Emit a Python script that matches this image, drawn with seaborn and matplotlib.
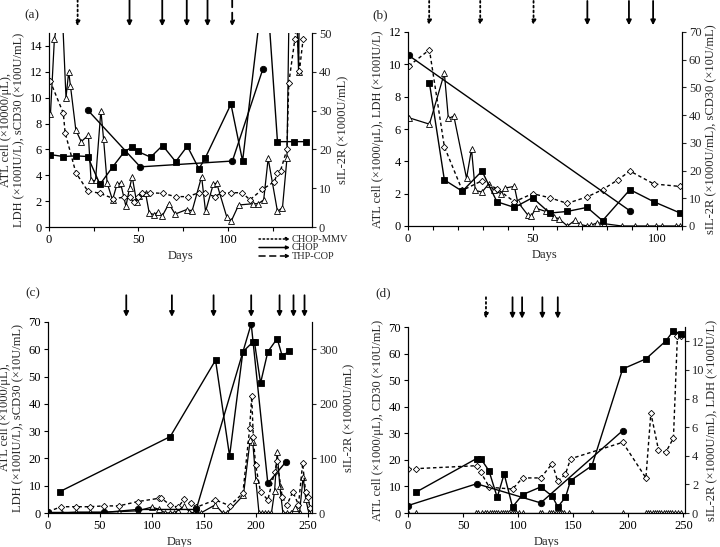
import matplotlib
matplotlib.use('Agg')
import matplotlib.pyplot as plt
import seaborn as sns
from matplotlib.transforms import blended_transform_factory
from matplotlib.ticker import MultipleLocator

# ---------------- data ----------------
# Panel (a)
a_tri_d = [0.8, 3, 7, 9.5, 11, 12, 15, 18, 22, 23.5, 26, 29, 30.5, 32.5, 35.5, 38, 40, 43, 45, 46.5,
           49, 50.5, 52, 54, 56, 58.7, 60.7, 63.3, 67, 70.5, 77, 80, 85.3, 87.5, 91.8, 93.7, 99.3, 102, 106, 114,
           117, 120, 122.5, 127.7, 130.5, 133, 135.5, 139.5, 141]
a_tri_v = [8.7, 14.5, 18, 10.0, 12.0, 10.9, 7.5, 6.6, 7.1, 3.6, 3.6, 9.0, 6.8, 3.4, 2.1, 3.3, 3.4, 1.6, 3.0, 3.9,
           1.9, 2.4, 2.6, 2.6, 1.1, 0.95, 1.15, 0.85, 1.8, 1.0, 1.35, 1.25, 3.9, 1.2, 3.3, 3.4, 0.8, 0.5, 1.7, 1.8,
           1.8, 2.1, 5.3, 1.2, 1.5, 5.3, 30, 12.0, 30]
a_dia_d = [0.6, 8, 9, 15, 21.6, 28.5, 36, 42, 45, 47.5, 49.5, 52, 56.4, 63.5, 70.8, 77.5, 83.8, 87.2, 92.7, 96.5,
           102, 108, 112.3, 119.2, 125.9, 127.7, 129.4, 133, 134, 137.4, 138.5, 140, 142]
a_dia_v = [11.3, 8.8, 7.3, 4.2, 2.8, 2.6, 2.2, 2.3, 2.3, 1.9, 2.3, 2.6, 2.65, 2.6, 2.35, 2.35, 2.65, 2.6, 2.35, 2.65,
           2.65, 2.65, 2.1, 2.9, 3.5, 4.15, 4.35, 6.0, 11.1, 14.5, 16, 12.1, 14.5]
a_sq_d = [0.6, 8, 15, 21.6, 28.5, 35.6, 42, 46.6, 49.5, 56.8, 63.5, 70.8, 77.3, 83.8, 87.2, 101.7, 108.2, 121,
          127.7, 137, 143.4]
a_sq_v = [5.6, 5.45, 5.5, 5.45, 3.3, 4.65, 5.8, 6.2, 5.85, 5.4, 6.3, 5.05, 6.25, 4.5, 5.3, 9.5, 5.1, 20,
          6.6, 6.6, 6.6]
a_ci_d = [21.6, 51, 102.5, 119.5]
a_ci_v = [9.05, 4.65, 5.1, 12.2]
a_arrow_d = [16, 45, 63.3, 77, 88.6, 102.4]
a_arrow_s = ['CHOP-MMV', 'CHOP', 'CHOP', 'CHOP', 'CHOP', 'THP-COP']

# Panel (b)
b_ci_d = [0.3, 89]
b_ci_v = [10.55, 0.95]
b_sq_d = [8.6, 14.6, 21.8, 29.7, 35.7, 42.7, 50, 56.9, 63.9, 71.9, 78.1, 89.1, 98.7, 109]
b_sq_v = [8.85, 2.85, 2.15, 3.4, 1.5, 1.15, 1.75, 0.8, 0.9, 1.15, 0.33, 2.25, 1.5, 0.82]
b_dia_d = [0.3, 8.6, 14.6, 21.8, 29.7, 35.7, 42.7, 50, 56.9, 63.9, 71.9, 78.1, 84.2, 89.1, 98.7, 109]
b_dia_v = [9.9, 10.9, 4.9, 2.2, 2.8, 2.3, 1.5, 2.0, 1.75, 1.4, 1.8, 2.25, 2.85, 3.4, 2.6, 2.45]
b_tri_d = [0.3, 8.6, 14.6, 16.2, 18.4, 23.5, 25.5, 27, 29.7, 32.4, 34.5, 37.4, 39, 42.7, 44, 48, 49.5, 51.3,
           55.3, 58.6, 60.6, 64, 67, 69, 72, 73.5, 76, 78.5, 85.8, 91, 96, 99.7, 102, 107.7, 109]
b_tri_v = [6.7, 6.3, 9.45, 6.65, 6.8, 2.95, 4.75, 2.2, 2.1, 2.6, 2.2, 2.0, 2.35, 2.45, 1.5, 0.7, 0.6, 1.1,
           0.9, 0.55, 0.45, 0.0, 0.35, 0.1, 0.0, 0.05, 0.2, 0.15, 0.0, 0.0, 0.0, 0.0, 0.0, 0.0, 0.0]
b_arrow_d = [8.5, 29, 50.4, 72, 88.7, 98.4]
b_arrow_s = ['CHOP-MMV', 'CHOP-MMV', 'CHOP-MMV', 'CHOP', 'CHOP', 'CHOP']

# Panel (c)
c_sq_d = [11.2, 117.6, 161.2, 174.7, 187.5, 197, 198.7, 204.5, 211.5, 220.5, 225.3, 231.7]
c_sq_v = [7.8, 28.0, 56.0, 20.9, 59.1, 62.6, 62.5, 47.6, 59.1, 63.9, 57.6, 59.2]
c_ci_d = [0, 53.8, 86.5, 142.6, 195.5, 211.5, 229]
c_ci_v = [0.2, 0.2, 1.3, 1.3, 69.3, 10.9, 18.8]
c_dia_d = [0, 12.8, 27, 40, 53.8, 68, 86.5, 107, 108.5, 117.6, 125, 131, 138, 142.6, 161, 174.7, 187.5, 194,
           196, 197.5, 199.7, 204.5, 211.5, 218, 220.5, 225.3, 229.8, 235.6, 241, 245, 247.8, 250, 252]
c_dia_v = [0.5, 2.3, 2.3, 2.3, 2.6, 2.6, 4.2, 5.4, 5.6, 2.9, 2.1, 5.0, 3.5, 2.1, 4.8, 2.7, 7.2, 31,
           42.7, 28, 17.6, 7.8, 4.8, 15, 19, 6.0, 2.9, 7.8, 3.0, 18.2, 7.8, 6.0, 2.0]
c_tri_d = [0, 13, 27, 40, 54, 68, 87, 100, 107, 113, 117, 121, 125, 131, 136, 140, 143, 147, 161, 168,
           172, 188, 194.5, 197, 200, 203, 206, 209, 212, 215, 218, 220.5, 223, 226, 230, 234, 238, 242,
           245.5, 248, 251]
c_tri_v = [0, 0, 0.3, 0.3, 0.3, 0.5, 0.8, 2.2, 1.3, 0, 0, 0, 0.8, 2.5, 0.5, 0, 0, 0, 3.0, 0,
           0, 6.5, 26.8, 26, 12, 0, 0, 0, 0, 0, 8, 22.5, 10, 0, 0, 0, 2, 0,
           13.3, 5, 0]
c_arrow_d = [75.3, 119.2, 159.3, 195.5, 222.8, 236.2, 246.8]
c_arrow_s = ['CHOP'] * 7

# Panel (d)
d_sq_d = [7.5, 62.3, 66, 73.5, 81, 87.3, 94.9, 104, 120.5, 131, 136, 143, 147.6, 167, 194.9, 216, 234, 241, 247.6]
d_sq_v = [7.9, 20.5, 20.5, 15.9, 5.9, 14.7, 2.3, 6.9, 9.8, 6.3, 2.3, 5.9, 12.2, 17.8, 54.2, 58.0, 64.7, 68.6, 67.4]
d_ci_d = [0, 62.3, 120.5, 194.9]
d_ci_v = [2.8, 11.0, 3.8, 31.0]
d_dia_d = [0, 7.5, 62.3, 66, 73.8, 94.9, 104, 120.5, 131, 136, 143, 147.6, 194.9, 216, 220.5, 227.4, 234,
           241, 244.6, 247.6]
d_dia_v = [16.7, 16.7, 17.8, 15.4, 9.7, 9.0, 13.2, 13.2, 18.6, 11.9, 14.7, 20.4, 26.6, 13.2, 37.6, 23.8, 22.8,
           28.2, 66.5, 66.8]
d_tri_d = [0, 7, 62, 64, 67, 70, 72, 74, 76, 78, 80, 82, 84, 86, 88, 90, 92, 94, 96, 98, 101, 104, 120, 122,
           128, 130, 132, 134, 136, 138, 140, 142, 146, 167, 195, 216, 218, 220, 222, 224, 226, 228, 230, 232,
           234, 236, 238, 240, 242, 245, 248]
d_tri_v = [0] * len(d_tri_d)
d_arrow_d = [70.8, 94.9, 103.6, 122, 136]
d_arrow_s = ['CHOP-MMV', 'CHOP', 'CHOP', 'CHOP', 'CHOP']

legend_names = ['CHOP-MMV', 'CHOP', 'THP-COP']

# ---------------- styling ----------------
sns.set_theme(style='ticks')
plt.rcParams['font.family'] = ['Liberation Serif', 'DejaVu Serif']
plt.rcParams['font.size'] = 9
plt.rcParams['axes.linewidth'] = 0.8

W, H = 720, 547
fig = plt.figure(figsize=(7.2, 5.47), dpi=100)


def box(l, r, t, b):
    return [l / W, 1 - b / H, (r - l) / W, (b - t) / H]


STY = {
    'tri': dict(marker='^', markersize=5, markerfacecolor='white', markeredgecolor='black',
                markeredgewidth=0.6, linewidth=0.9, linestyle='-'),
    'dia': dict(marker='D', markersize=3.2, markerfacecolor='white', markeredgecolor='black',
                markeredgewidth=0.6, linewidth=1.0, linestyle=(0, (2.5, 2))),
    'sq': dict(marker='s', markersize=4.6, markerfacecolor='black', markeredgecolor='black',
               markeredgewidth=0.6, linewidth=1.0, linestyle='-'),
    'ci': dict(marker='o', markersize=4.6, markerfacecolor='black', markeredgecolor='black',
               markeredgewidth=0.6, linewidth=1.0, linestyle='-'),
}
ARROW_LS = {'CHOP-MMV': ':', 'CHOP': '-', 'THP-COP': (0, (4, 3))}


def series(ax, d, v, kind):
    sns.lineplot(x=d, y=v, ax=ax, estimator=None, sort=False, color='black', **STY[kind])


def fmt(ax, xmax, xmajor, xminor, ymax, ystep, y2max, y2step, ylabel, y2label, y2pad=4):
    ax.set_xlim(0, xmax)
    ax.set_ylim(0, ymax)
    ax.xaxis.set_major_locator(MultipleLocator(xmajor))
    if xminor:
        ax.xaxis.set_minor_locator(MultipleLocator(xminor))
    ax.yaxis.set_major_locator(MultipleLocator(ystep))
    ax.set_xlabel('Days', fontsize=9, labelpad=3)
    ax.set_ylabel(ylabel, fontsize=9, labelpad=3, linespacing=1.1)
    ax.tick_params(axis='both', which='both', direction='out', length=3, width=0.8, labelsize=9, pad=2,
                   colors='black')
    ax.tick_params(axis='x', which='minor', length=3)
    ax.spines['top'].set_visible(False)
    ax2 = ax.twinx()
    ax2.set_ylim(0, y2max)
    ax2.yaxis.set_major_locator(MultipleLocator(y2step))
    ax2.tick_params(axis='y', direction='out', length=3, width=0.8, labelsize=9, pad=2)
    ax2.spines['top'].set_visible(False)
    ax2.set_ylabel(y2label, fontsize=9, labelpad=y2pad)
    for a in (ax, ax2):
        for s in a.spines.values():
            s.set_color('black')
            s.set_linewidth(0.8)
    return ax2


def arrows(ax, days, kinds, y0, y1):
    tr = blended_transform_factory(ax.transData, ax.transAxes)
    for d, k in zip(days, kinds):
        ax.annotate('', xy=(d, y1), xycoords=tr, xytext=(d, y0), textcoords=tr,
                    arrowprops=dict(arrowstyle='-|>', color='black', lw=1.3, linestyle=ARROW_LS[k],
                                    mutation_scale=7, shrinkA=0, shrinkB=0),
                    annotation_clip=False)


# ---- (a)
axa = fig.add_axes(box(49, 312, 33, 227))
series(axa, a_tri_d, a_tri_v, 'tri')
series(axa, a_dia_d, a_dia_v, 'dia')
series(axa, a_ci_d, a_ci_v, 'ci')
series(axa, a_sq_d, a_sq_v, 'sq')
fmt(axa, 147, 50, 25, 15, 2, 50, 10,
    'ATL cell (×10000/μL),\nLDH (×100IU/L), sCD30 (×100U/mL)', 'sIL-2R (×1000U/mL)')
arrows(axa, a_arrow_d, a_arrow_s, 1.17, 1.035)
fig.text(32 / W, 1 - 15 / H, '(a)', ha='center', va='center', fontsize=9.5)

# legend of treatments
for y, name in zip([239, 247.5, 256], legend_names):
    axa.annotate('', xy=(290, H - y), xycoords='figure pixels', xytext=(259, H - y),
                 textcoords='figure pixels',
                 arrowprops=dict(arrowstyle='-|>', color='black', lw=1.1, linestyle=ARROW_LS[name],
                                 mutation_scale=5, shrinkA=0, shrinkB=0),
                 annotation_clip=False)
    fig.text(292 / W, 1 - y / H, name, ha='left', va='center', fontsize=7.5)

# ---- (b)
axb = fig.add_axes(box(408, 682, 32, 226))
series(axb, b_tri_d, b_tri_v, 'tri')
series(axb, b_dia_d, b_dia_v, 'dia')
series(axb, b_ci_d, b_ci_v, 'ci')
series(axb, b_sq_d, b_sq_v, 'sq')
fmt(axb, 110, 50, 10, 12, 2, 70, 10,
    'ATL cell (×1000/μL), LDH (×100IU/L)', 'sIL-2R (×1000U/mL), sCD30 (×10U/mL)', y2pad=3)
arrows(axb, b_arrow_d, b_arrow_s, 1.16, 1.035)
fig.text(380 / W, 1 - 15 / H, '(b)', ha='center', va='center', fontsize=9.5)

# ---- (c)
axc = fig.add_axes(box(48, 312, 322, 513))
series(axc, c_tri_d, c_tri_v, 'tri')
series(axc, c_dia_d, c_dia_v, 'dia')
series(axc, c_ci_d, c_ci_v, 'ci')
series(axc, c_sq_d, c_sq_v, 'sq')
fmt(axc, 254, 50, None, 70, 10, 350, 100,
    'ATL cell (×1000/μL),\nLDH (×100IU/L), sCD30 (×10U/mL)', 'sIL-2R (×1000U/mL)')
arrows(axc, c_arrow_d, c_arrow_s, 1.14, 1.027)
fig.text(33 / W, 1 - 293 / H, '(c)', ha='center', va='center', fontsize=9.5)

# ---- (d)
axd = fig.add_axes(box(408, 685, 327, 513))
series(axd, d_tri_d, d_tri_v, 'tri')
series(axd, d_dia_d, d_dia_v, 'dia')
series(axd, d_ci_d, d_ci_v, 'ci')
series(axd, d_sq_d, d_sq_v, 'sq')
fmt(axd, 251.5, 50, None, 70, 10, 13, 2,
    'ATL cell (×1000/μL), CD30 (×10U/mL)', 'sIL-2R (×1000U/mL), LDH (×100IU/L)', y2pad=1)
arrows(axd, d_arrow_d, d_arrow_s, 1.16, 1.045)
fig.text(383 / W, 1 - 293 / H, '(d)', ha='center', va='center', fontsize=9.5)

fig.savefig('out.png', dpi=100)
